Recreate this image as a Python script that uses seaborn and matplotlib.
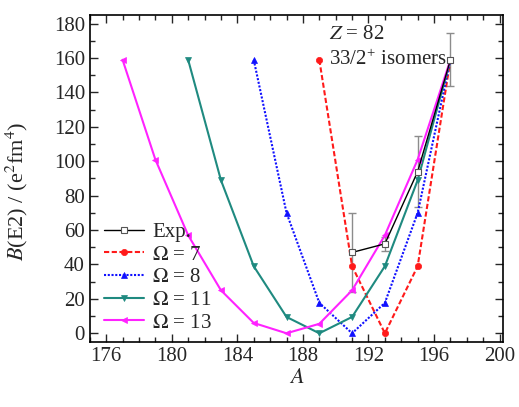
import matplotlib
matplotlib.use("Agg")
import matplotlib.pyplot as plt
import seaborn as sns
import pandas as pd
from matplotlib.ticker import MultipleLocator

# Data
A_exp = [191, 193, 195, 197]
B_exp = [47, 52, 94, 159]
B_exp_err = [23, 4, 20.5, 15.5]

A_om7 = [189, 191, 193, 195, 197]
B_om7 = [159, 39, 0, 39, 159]

A_om8 = [185, 187, 189, 191, 193, 195, 197]
B_om8 = [159, 70, 17.7, 0, 17.7, 70, 159]

A_om11 = [181, 183, 185, 187, 189, 191, 193, 195, 197]
B_om11 = [159, 89, 39, 9.5, 0, 9.5, 39, 89, 159]

A_om13 = [177, 179, 181, 183, 185, 187, 189, 191, 193, 195, 197]
B_om13 = [159, 101, 57, 25, 6, 0, 5.5, 25, 57, 101, 159]

sns.set_theme(style="ticks")
plt.rcParams['font.family'] = ['Liberation Serif', 'DejaVu Serif']
plt.rcParams['mathtext.fontset'] = 'stix'

fig = plt.figure(figsize=(5.19, 4.07), dpi=100)
ax = fig.add_axes([0.173, 0.160, 0.796, 0.803])

series = [
    (A_om7, B_om7, r'$\mathit{\Omega}$ = 7', '#ff1a1a', (0, (2.5, 1.2)), 'o', 4.5),
    (A_om8, B_om8, r'$\mathit{\Omega}$ = 8', '#1010ff', (0, (1, 0.8)), '^', 5),
    (A_om11, B_om11, r'$\mathit{\Omega}$ = 11', '#1f8a80', '-', 'v', 5),
    (A_om13, B_om13, r'$\mathit{\Omega}$ = 13', '#ff22ff', '-', '<', 5),
]

# Exp first (legend order)
ax.errorbar(A_exp, B_exp, yerr=B_exp_err, fmt='none', ecolor='#8c8c8c',
            elinewidth=1.0, capsize=3, capthick=1.0, zorder=1)
df_exp = pd.DataFrame({'A': A_exp, 'B': B_exp})
sns.lineplot(data=df_exp, x='A', y='B', ax=ax, color='black', lw=1.0,
             marker='s', markersize=4, markerfacecolor='white',
             markeredgecolor='#555555', markeredgewidth=0.8, label='Exp.', zorder=3)

for A, B, lab, col, ls, mk, ms in series:
    df = pd.DataFrame({'A': A, 'B': B})
    sns.lineplot(data=df, x='A', y='B', ax=ax, color=col, lw=1.5,
                 linestyle=ls, marker=mk, markersize=ms, markeredgecolor=col,
                 markeredgewidth=0.5, markerfacecolor=col, label=lab, zorder=2)

ax.set_xlim(175, 200.2)
ax.set_ylim(-5, 185)
ax.xaxis.set_major_locator(MultipleLocator(4))
ax.xaxis.set_minor_locator(MultipleLocator(1))
ax.yaxis.set_major_locator(MultipleLocator(20))
ax.yaxis.set_minor_locator(MultipleLocator(10))
ax.tick_params(which='both', direction='in', top=True, right=True, labelsize=15, width=1.0)
ax.tick_params(which='major', length=6)
ax.tick_params(which='minor', length=3.5)
for s in ax.spines.values():
    s.set_linewidth(1.2)
    s.set_color('black')

ax.set_xlabel(r'$A$', fontsize=16, labelpad=2)
ax.set_ylabel(r'$B$(E2) / (e$^2$fm$^4$)', fontsize=16, labelpad=6)
ax.yaxis.set_label_coords(-0.145, 0.46)

ax.text(189.6, 173.5, r'$Z$ = 82', fontsize=15, va='center', ha='left')
ax.text(189.6, 159, r'33/2$^{\mathregular{+}}$ isomers', fontsize=15, va='center', ha='left')

leg = ax.legend(loc='lower left', bbox_to_anchor=(0.005, -0.01), frameon=False,
                fontsize=15, handlelength=1.9, handletextpad=0.4,
                labelspacing=0.15, borderaxespad=0.2)

fig.savefig('out.png', dpi=100)
